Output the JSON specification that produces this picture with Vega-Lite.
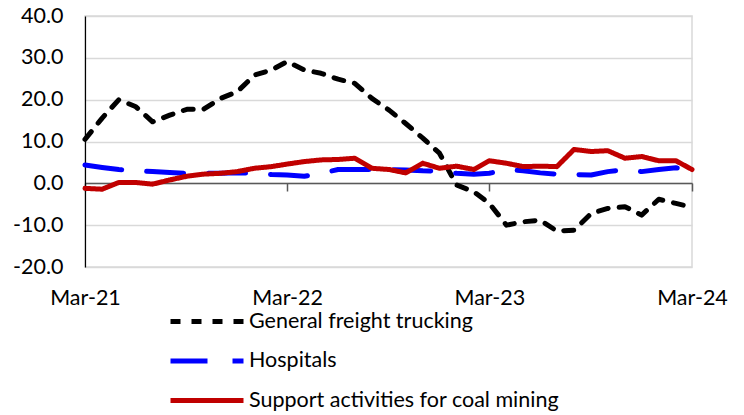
{
 "$schema": "https://vega.github.io/schema/vega-lite/v6.json",
 "width": 607, "height": 251,
 "autosize": {"type": "none"},
 "padding": {"left": 85, "top": 16, "right": 52, "bottom": 148},
 "background": "white",
 "config": {"font": "Lato", "view": {"stroke": "#d9d9d9", "strokeWidth": 1.5}},
 "data": {"values": [
  {"date": "2021-03-01", "General freight trucking": 10.5, "Hospitals": 4.4, "Support activities for coal mining": -1.2},
  {"date": "2021-04-01", "General freight trucking": 15.6, "Hospitals": 3.8, "Support activities for coal mining": -1.4},
  {"date": "2021-05-01", "General freight trucking": 20.0, "Hospitals": 3.3, "Support activities for coal mining": 0.2},
  {"date": "2021-06-01", "General freight trucking": 18.3, "Hospitals": 3.0, "Support activities for coal mining": 0.2},
  {"date": "2021-07-01", "General freight trucking": 14.7, "Hospitals": 2.8, "Support activities for coal mining": -0.2},
  {"date": "2021-08-01", "General freight trucking": 16.3, "Hospitals": 2.6, "Support activities for coal mining": 0.8},
  {"date": "2021-09-01", "General freight trucking": 17.7, "Hospitals": 2.4, "Support activities for coal mining": 1.7},
  {"date": "2021-10-01", "General freight trucking": 17.7, "Hospitals": 2.4, "Support activities for coal mining": 2.2},
  {"date": "2021-11-01", "General freight trucking": 20.3, "Hospitals": 2.4, "Support activities for coal mining": 2.4},
  {"date": "2021-12-01", "General freight trucking": 21.9, "Hospitals": 2.5, "Support activities for coal mining": 2.8},
  {"date": "2022-01-01", "General freight trucking": 25.9, "Hospitals": 2.4, "Support activities for coal mining": 3.6},
  {"date": "2022-02-01", "General freight trucking": 27.1, "Hospitals": 2.1, "Support activities for coal mining": 4.0},
  {"date": "2022-03-01", "General freight trucking": 29.1, "Hospitals": 2.0, "Support activities for coal mining": 4.6},
  {"date": "2022-04-01", "General freight trucking": 27.1, "Hospitals": 1.7, "Support activities for coal mining": 5.2},
  {"date": "2022-05-01", "General freight trucking": 26.3, "Hospitals": 2.4, "Support activities for coal mining": 5.6},
  {"date": "2022-06-01", "General freight trucking": 24.9, "Hospitals": 3.3, "Support activities for coal mining": 5.7},
  {"date": "2022-07-01", "General freight trucking": 23.9, "Hospitals": 3.3, "Support activities for coal mining": 6.0},
  {"date": "2022-08-01", "General freight trucking": 20.3, "Hospitals": 3.3, "Support activities for coal mining": 3.6},
  {"date": "2022-09-01", "General freight trucking": 17.5, "Hospitals": 3.3, "Support activities for coal mining": 3.3},
  {"date": "2022-10-01", "General freight trucking": 14.3, "Hospitals": 3.2, "Support activities for coal mining": 2.5},
  {"date": "2022-11-01", "General freight trucking": 10.8, "Hospitals": 3.0, "Support activities for coal mining": 4.8},
  {"date": "2022-12-01", "General freight trucking": 7.2, "Hospitals": 2.9, "Support activities for coal mining": 3.6},
  {"date": "2023-01-01", "General freight trucking": -0.4, "Hospitals": 2.4, "Support activities for coal mining": 4.1},
  {"date": "2023-02-01", "General freight trucking": -2.0, "Hospitals": 2.2, "Support activities for coal mining": 3.3},
  {"date": "2023-03-01", "General freight trucking": -4.8, "Hospitals": 2.4, "Support activities for coal mining": 5.4},
  {"date": "2023-04-01", "General freight trucking": -10.0, "Hospitals": 3.3, "Support activities for coal mining": 4.8},
  {"date": "2023-05-01", "General freight trucking": -9.2, "Hospitals": 3.0, "Support activities for coal mining": 4.0},
  {"date": "2023-06-01", "General freight trucking": -8.8, "Hospitals": 2.5, "Support activities for coal mining": 4.1},
  {"date": "2023-07-01", "General freight trucking": -11.4, "Hospitals": 2.2, "Support activities for coal mining": 4.0},
  {"date": "2023-08-01", "General freight trucking": -11.2, "Hospitals": 2.1, "Support activities for coal mining": 8.1},
  {"date": "2023-09-01", "General freight trucking": -7.2, "Hospitals": 2.0, "Support activities for coal mining": 7.6},
  {"date": "2023-10-01", "General freight trucking": -6.0, "Hospitals": 2.8, "Support activities for coal mining": 7.8},
  {"date": "2023-11-01", "General freight trucking": -5.6, "Hospitals": 3.2, "Support activities for coal mining": 6.0},
  {"date": "2023-12-01", "General freight trucking": -7.6, "Hospitals": 2.8, "Support activities for coal mining": 6.4},
  {"date": "2024-01-01", "General freight trucking": -3.8, "Hospitals": 3.3, "Support activities for coal mining": 5.4},
  {"date": "2024-02-01", "General freight trucking": -4.8, "Hospitals": 3.7, "Support activities for coal mining": 5.4},
  {"date": "2024-03-01", "General freight trucking": -5.7, "Hospitals": 3.3, "Support activities for coal mining": 3.3}
 ]},
 "transform": [{"fold": ["General freight trucking", "Hospitals", "Support activities for coal mining"], "as": ["series", "value"]}],
 "mark": {"type": "line", "strokeCap": "round", "strokeJoin": "round"},
 "encoding": {
  "x": {"field": "date", "type": "temporal",
   "scale": {"type": "utc", "domain": [{"year": 2021, "month": 3, "date": 1, "utc": true}, {"year": 2024, "month": 3, "date": 1, "utc": true}], "nice": false},
   "axis": {"title": null, "grid": false, "zindex": 0,
    "values": [{"year": 2021, "month": 3, "date": 1, "utc": true}, {"year": 2022, "month": 3, "date": 1, "utc": true}, {"year": 2023, "month": 3, "date": 1, "utc": true}, {"year": 2024, "month": 3, "date": 1, "utc": true}],
    "format": "%b-%y", "domainColor": "#595959", "domainWidth": 1.5, "tickColor": "#595959", "tickWidth": 1.5, "tickSize": 8,
    "offset": -84, "labelPadding": 96, "labelFontSize": 21.5, "labelColor": "#000000", "labelFlush": false, "labelBound": false, "labelOverlap": false}},
  "y": {"field": "value", "type": "quantitative",
   "scale": {"domain": [-20, 40], "nice": false, "zero": false},
   "axis": {"title": null, "values": [-20, -10, 0, 10, 20, 30, 40], "zindex": 0,
    "labelExpr": "datum.value < 0 ? '-' + format(-datum.value, '.1f') : format(datum.value, '.1f')",
    "ticks": false, "labelPadding": 22, "domainColor": "#000000", "domainWidth": 1.2, "gridColor": "#d9d9d9", "gridWidth": 1.5,
    "labelFontSize": 21.5, "labelColor": "#000000"}},
  "strokeWidth": {"field": "series", "type": "nominal", "scale": {"range": [5, 5, 4]}, "legend": null},
  "color": {"field": "series", "type": "nominal",
   "scale": {"range": ["#000000", "#0000ff", "#c00000"]},
   "legend": {"title": null, "orient": "none", "legendX": 83, "legendY": 294, "direction": "vertical", "clipHeight": 23, "rowPadding": 16.5,
    "symbolType": "stroke", "symbolSize": 5329, "symbolStrokeWidth": 4.5, "labelFontSize": 21.5, "labelColor": "#000000", "labelOffset": 3, "labelLimit": 500}},
  "strokeDash": {"field": "series", "type": "nominal",
   "scale": {"range": [[10, 11], [37, 25], [1, 0]]},
   "legend": {"title": null, "orient": "none", "legendX": 83, "legendY": 294, "direction": "vertical", "clipHeight": 23, "rowPadding": 16.5,
    "symbolType": "stroke", "symbolSize": 5329, "symbolStrokeWidth": 4.5, "labelFontSize": 21.5, "labelColor": "#000000", "labelOffset": 3, "labelLimit": 500}}
 }
}
